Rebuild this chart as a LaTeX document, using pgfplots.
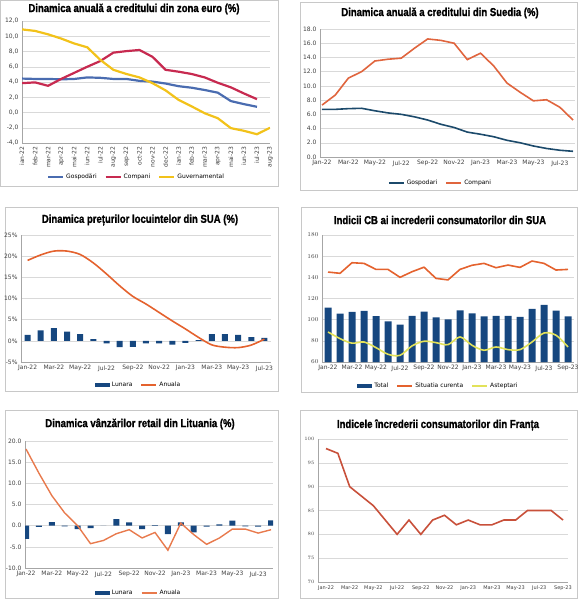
\documentclass[border=0pt]{standalone}
\usepackage{fontspec}
\setmainfont{DejaVu Sans}
\newfontfamily\titlefont[FakeStretch=0.83, BoldFeatures={FakeBold=1.2}]{Liberation Sans}
\usepackage{pgfplots}
\pgfplotsset{compat=1.18}

\definecolor{gblue}{HTML}{4A6CB0}
\definecolor{gred}{HTML}{C72A50}
\definecolor{gyel}{HTML}{F2C21A}
\definecolor{sblue}{HTML}{1C4A6B}
\definecolor{sorg}{HTML}{E0653E}
\definecolor{navy}{HTML}{16477F}
\definecolor{org}{HTML}{E4622E}
\definecolor{lyel}{HTML}{E2E25A}
\definecolor{frred}{HTML}{C8503A}
\definecolor{frame}{HTML}{C8C8C8}

\pgfplotsset{
  base/.style={
    scale only axis, anchor=south west,
    axis lines*=left,
    axis line style={draw=black!35, -},
    tick style={draw=none},
    ymajorgrids,
    grid style={draw=black!15, line width=0.4pt},
    tick label style={font=\fontsize{6}{7}\selectfont, text=black!75},
    legend style={draw=none, fill=none, font=\fontsize{6}{7}\selectfont,
      legend columns=-1, anchor=center,
      /tikz/every even column/.append style={column sep=6pt}},
  },
  lineleg/.style={legend image code/.code={\draw[##1,line width=2pt] (0pt,0pt)--(15pt,0pt);}},
  barleg/.style={legend image code/.code={\fill[##1] (0pt,-2pt) rectangle (15pt,2pt);}},
}

\newcommand\ttl[1]{{\titlefont\bfseries\fontsize{11.5}{12}\selectfont #1}}

\begin{document}
\begin{tikzpicture}
\useasboundingbox (0pt,0pt) rectangle (579pt,-600pt);

% panel frames
\draw[frame] (0.5pt,-0.5pt) rectangle (278pt,-186pt);
\draw[frame] (300pt,-2pt) rectangle (577pt,-190pt);
\draw[frame] (5pt,-207pt) rectangle (278pt,-391pt);
\draw[frame] (301pt,-207pt) rectangle (577pt,-392pt);
\draw[frame] (5pt,-410pt) rectangle (278pt,-598pt);
\draw[frame] (300pt,-410pt) rectangle (577pt,-598pt);

% titles
\node at (134pt,-9pt) {\ttl{Dinamica anuală a creditului din zona euro (\%)}};
\node at (440pt,-13pt) {\ttl{Dinamica anuală a creditului din Suedia (\%)}};
\node at (140pt,-220pt) {\ttl{Dinamica prețurilor locuintelor din SUA (\%)}};
\node at (440pt,-220pt) {\ttl{Indicii CB ai increderii consumatorilor din SUA}};
\node at (140pt,-424pt) {\ttl{Dinamica vânzărilor retail din Lituania (\%)}};
\node at (438pt,-425pt) {\ttl{Indicele încrederii consumatorilor din Franța}};

% 1: euro area credit
\begin{axis}[base, at={(22pt,-143pt)}, width=248pt, height=122pt,
  xmin=0, xmax=19, ymin=-4, ymax=12,
  ytick={-4,-2,...,12},
  yticklabels={{-4,0},{-2,0},{0,0},{2,0},{4,0},{6,0},{8,0},{10,0},{12,0}},
  xtick={0,...,19},
  xticklabels={ian-22,feb-22,mar-22,apr-22,mai-22,iun-22,iul-22,aug-22,sep-22,oct-22,nov-22,dec-22,ian-23,feb-23,mar-23,apr-23,mai-23,iun-23,iul-23,aug-23},
  xticklabel style={rotate=90, anchor=east},
  legend style={at={(0.462,-0.279)}}]
\addplot[gblue, line width=2.2pt, lineleg] coordinates {
 (0,4.45) (1,4.4) (2,4.4) (3,4.35) (4,4.4) (5,4.6) (6,4.55) (7,4.4) (8,4.4) (9,4.15)
 (10,4.05) (11,3.8) (12,3.45) (13,3.25) (14,2.95) (15,2.6) (16,1.5) (17,1.1) (18,0.75)};
\addlegendentry{Gospodări}
\addplot[gred, line width=2.2pt, lineleg] coordinates {
 (0,3.85) (1,3.95) (2,3.5) (3,4.4) (4,5.2) (5,6.0) (6,6.75) (7,7.85) (8,8.05) (9,8.2)
 (10,7.3) (11,5.6) (12,5.35) (13,5.05) (14,4.6) (15,3.9) (16,3.3) (17,2.5) (18,1.75)};
\addlegendentry{Compani}
\addplot[gyel, line width=2.2pt, lineleg] coordinates {
 (0,10.9) (1,10.7) (2,10.25) (3,9.7) (4,9.05) (5,8.55) (6,6.9) (7,5.6) (8,5.05) (9,4.6)
 (10,3.85) (11,2.9) (12,1.65) (13,0.8) (14,-0.1) (15,-0.75) (16,-2.05) (17,-2.4) (18,-2.85) (19,-2.0)};
\addlegendentry{Guvernamental}
\end{axis}

% 2: Sweden credit
\begin{axis}[base, at={(320pt,-157pt)}, width=255pt, height=128pt,
  xmin=-0.15, xmax=19.15, ymin=0, ymax=18,
  ytick={0,2,...,18},
  yticklabels={0.0,2.0,4.0,6.0,8.0,10.0,12.0,14.0,16.0,18.0},
  xtick={0,2,...,18},
  xticklabels={Jan-22,Mar-22,May-22,Jul-22,Sep-22,Nov-22,Jan-23,Mar-23,May-23,Jul-23},
  legend style={at={(0.472,-0.203)}}]
\addplot[sblue, line width=1.6pt, lineleg] coordinates {
 (0,6.7) (1,6.7) (2,6.8) (3,6.85) (4,6.5) (5,6.2) (6,6.0) (7,5.65) (8,5.2) (9,4.6)
 (10,4.15) (11,3.5) (12,3.2) (13,2.85) (14,2.35) (15,2.0) (16,1.55) (17,1.2) (18,0.95) (19,0.8)};
\addlegendentry{Gospodari}
\addplot[sorg, line width=1.6pt, lineleg] coordinates {
 (0,7.3) (1,8.7) (2,11.1) (3,12.0) (4,13.5) (5,13.75) (6,13.9) (7,15.3) (8,16.6) (9,16.4)
 (10,16.0) (11,13.7) (12,14.6) (13,12.8) (14,10.4) (15,9.1) (16,7.9) (17,8.05) (18,7.0) (19,5.2)};
\addlegendentry{Compani}
\end{axis}

% 3: US house prices
\begin{axis}[base, at={(21pt,-362pt)}, width=250pt, height=127pt,
  xmin=-0.5, xmax=18.5, ymin=-5, ymax=25,
  ytick={-5,0,...,25},
  yticklabels={-5\%,0\%,5\%,10\%,15\%,20\%,25\%},
  xtick={0,2,...,18},
  xticklabels={Jan-22,Mar-22,May-22,Jul-22,Sep-22,Nov-22,Jan-23,Mar-23,May-23,Jul-23},
  legend style={at={(0.47,-0.181)}}]
\addplot[ybar, bar width=6pt, fill=navy, draw=none, barleg] coordinates {
 (0,1.4) (1,2.5) (2,3.0) (3,2.2) (4,1.6) (5,0.4) (6,-0.6) (7,-1.5) (8,-1.4) (9,-0.6)
 (10,-0.6) (11,-0.9) (12,-0.5) (13,0.15) (14,1.6) (15,1.6) (16,1.4) (17,0.9) (18,0.7)};
\addlegendentry{Lunara}
\addplot[org, line width=1.6pt, smooth, lineleg] coordinates {
 (0,19.0) (1,20.3) (2,21.2) (3,21.2) (4,20.4) (5,18.4) (6,15.8) (7,13.0) (8,10.5) (9,8.7)
 (10,6.7) (11,4.7) (12,2.8) (13,0.8) (14,-0.95) (15,-1.5) (16,-1.6) (17,-1.0) (18,0.4)};
\addlegendentry{Anuala}
\end{axis}

% 4: US consumer confidence
\begin{axis}[base, at={(322pt,-362pt)}, width=252pt, height=127pt,
  xmin=-0.5, xmax=20.5, ymin=60, ymax=180,
  ytick={60,80,...,180},
  xtick={0,2,...,20},
  xticklabels={Jan-22,Mar-22,May-22,Jul-22,Sep-22,Nov-22,Jan-23,Mar-23,May-23,Jul-23,Sep-23},
  legend style={at={(0.462,-0.189)}}]
\addplot[ybar, bar width=7pt, fill=navy, draw=none, barleg] coordinates {
 (0,111.3) (1,105.8) (2,107.4) (3,108.4) (4,103.3) (5,98.5) (6,95.4) (7,103.6) (8,107.6) (9,102.1)
 (10,100.2) (11,108.9) (12,105.9) (13,103.0) (14,103.6) (15,103.6) (16,102.6) (17,110.1) (18,113.9) (19,108.5) (20,103.0)};
\addlegendentry{Total}
\addplot[org, line width=1.6pt, lineleg] coordinates {
 (0,145.0) (1,143.8) (2,153.8) (3,153.2) (4,147.5) (5,147.5) (6,140.0) (7,145.3) (8,149.6) (9,139.0)
 (10,137.6) (11,147.5) (12,151.4) (13,153.2) (14,149.1) (15,151.6) (16,149.4) (17,155.4) (18,153.2) (19,146.9) (20,147.5)};
\addlegendentry{Situatia curenta}
\addplot[lyel, line width=1.6pt, smooth, lineleg] coordinates {
 (0,88.4) (1,82.1) (2,77.8) (3,78.9) (4,73.6) (5,67.3) (6,66.3) (7,75.2) (8,79.6) (9,78.3)
 (10,76.4) (11,83.7) (12,75.8) (13,71.1) (14,74.2) (15,71.7) (16,71.7) (17,78.9) (18,87.4) (19,85.3) (20,74.2)};
\addlegendentry{Asteptari}
\end{axis}

% 5: Lithuania retail
\begin{axis}[base, at={(25pt,-568pt)}, width=248pt, height=127pt,
  xmin=-0.08, xmax=19.15, ymin=-10, ymax=20,
  ytick={-10,-5,...,20},
  yticklabels={-10.0,-5.0,0.0,5.0,10.0,15.0,20.0},
  xtick={0,2,...,18},
  xticklabels={Jan-22,Mar-22,May-22,Jul-22,Sep-22,Nov-22,Jan-23,Mar-23,May-23,Jul-23},
  legend style={at={(0.458,-0.197)}}]
\addplot[ybar, bar width=6pt, fill=navy, draw=none, barleg] coordinates {
 (0,-3.1) (1,-0.3) (2,0.85) (3,-0.15) (4,-0.8) (5,-0.6) (6,0) (7,1.55) (8,0.8) (9,-0.8)
 (10,0.15) (11,-2.0) (12,0.8) (13,-1.6) (14,-0.25) (15,0.3) (16,1.2) (17,-0.15) (18,-0.25) (19,1.25)};
\addlegendentry{Lunara}
\addplot[org!85!white, line width=1.4pt, lineleg] coordinates {
 (0,18.1) (1,12.4) (2,7.1) (3,3.0) (4,0.0) (5,-4.25) (6,-3.5) (7,-1.9) (8,-0.95) (9,-2.9)
 (10,-1.6) (11,-5.8) (12,0.6) (13,-2.1) (14,-4.4) (15,-2.9) (16,-0.8) (17,-0.8) (18,-1.75) (19,-0.95)};
\addlegendentry{Anuala}
\end{axis}

% 6: France consumer confidence
\begin{axis}[base, at={(318pt,-582pt)}, width=250pt, height=143pt,
  xmin=-0.675, xmax=20.42, ymin=70, ymax=100,
  ytick={70,75,...,100},
  tick label style={font=\fontsize{5}{6}\selectfont},
  xtick={0,2,...,20},
  xticklabels={Jan-22,Mar-22,May-22,Jul-22,Sep-22,Nov-22,Jan-23,Mar-23,May-23,Jul-23,Sep-23}]
\addplot[frred, line width=1.6pt] coordinates {
 (0,98) (1,97) (2,90) (3,88) (4,86) (5,83) (6,80) (7,83) (8,80) (9,83)
 (10,84) (11,82) (12,83) (13,82) (14,82) (15,83) (16,83) (17,85) (18,85) (19,85) (20,83)};
\end{axis}
\end{tikzpicture}
\end{document}
